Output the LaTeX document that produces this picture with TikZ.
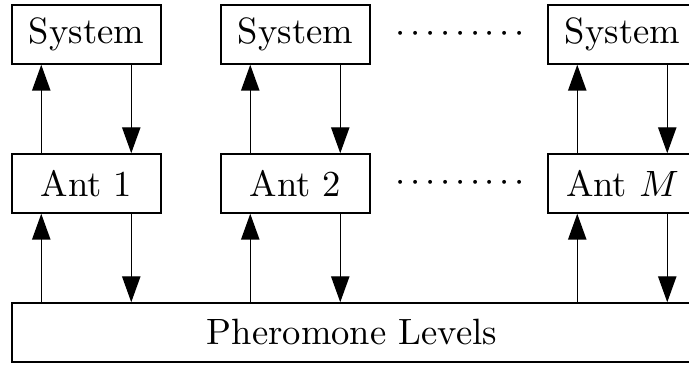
\documentclass[tikz,border=0pt]{standalone}
\usetikzlibrary{arrows.meta,calc}
% a row of nine centred dots with a tight pitch
\newcommand{\dotrow}{$\cdotp$\foreach \k in {1,...,8}{\kern1.29pt$\cdotp$}}
\begin{document}
\begin{tikzpicture}[x=0.2732pt,y=-0.2732pt,
  blk/.style={draw,line width=0.4pt,minimum width=40.71pt,minimum height=16.12pt,inner sep=0pt},
  arr/.style={line width=0.4pt,-{Triangle[length=7.1pt,width=5pt]}}]
\useasboundingbox (0,0) rectangle (689,365);
\clip (0,0) rectangle (689,365);
% system and ant boxes, three columns
\foreach \i/\x/\lab in {1/86.5/1, 2/295.5/2, 3/622.5/$M$}{
  \node[blk] (sys\i) at (\x,34.5) {System};
  \node[blk] (ant\i) at (\x,183.5) {Ant \lab};
}
\node[blk,minimum width=185.8pt] (phero) at (352,332.5) {Pheromone Levels};
% gaps between second and last column
\node[inner sep=0pt] (dtop) at (460.5,34.5) {\dotrow};
\node[inner sep=0pt] (dmid) at (460.5,183.5) {\dotrow};
% connectors
\foreach \i in {1,2,3}{
  \coordinate (u\i) at ($(ant\i.south west)+(30,0)$);
  \coordinate (d\i) at ($(ant\i.south west)+(120,0)$);
  \draw[arr] (u\i |- phero.north) -- (u\i |- ant\i.south);
  \draw[arr] (d\i |- ant\i.south) -- (d\i |- phero.north);
  \draw[arr] (u\i |- ant\i.north) -- (u\i |- sys\i.south);
  \draw[arr] (d\i |- sys\i.south) -- (d\i |- ant\i.north);
}
\end{tikzpicture}
\end{document}
